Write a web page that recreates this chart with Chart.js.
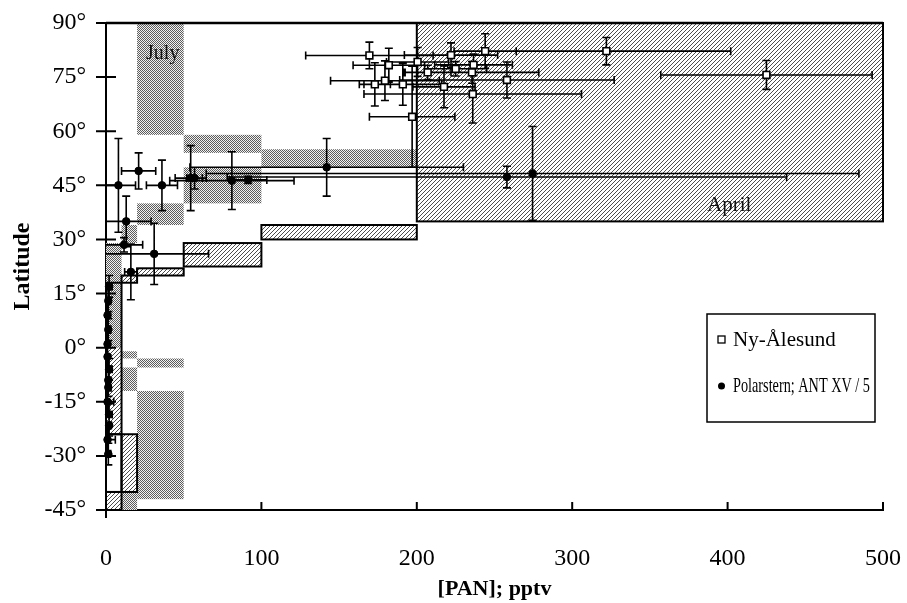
<!DOCTYPE html>
<html>
<head>
<meta charset="utf-8">
<script src="https://cdn.jsdelivr.net/npm/chart.js@4.4.0/dist/chart.umd.min.js"></script>
<style>
  html, body { margin: 0; padding: 0; background: #fff; }
</style>
</head>
<body>
<canvas id="myChart" width="907" height="603"></canvas>
<script>
// Ny-Ålesund (open squares): PAN, latitude and their errors
const nyX    = [169.5, 182, 179.5, 173, 191, 200.5, 197, 207, 217.5, 225, 222, 235.5, 236.5, 244, 236, 258, 322, 425];
const nyY    = [81, 78.3, 74, 73, 73, 79.2, 64, 76.3, 72.3, 77.3, 81.1, 76.3, 78.4, 82.2, 70.3, 74.2, 82.2, 75.6];
const nyXErr = [41, 23, 35, 10, 25, 20, 27.5, 15, 20, 20, 30, 43, 25, 20, 70, 69, 80, 68];
const nyYErr = [3.7, 4.7, 5.5, 6, 5.8, 4, 14, 2, 5.8, 2, 3.4, 3, 3, 4.8, 8, 5, 3.8, 4];

// Polarstern ANT XV/5 (filled circles)
const psX    = [8, 21, 36, 54.5, 57, 81, 91.5, 142, 258, 274.5, 13, 11.6, 31, 16, 2, 1.5, 1, 1.5, 1, 1, 2, 1.5, 1.5, 1, 2, 2, 1, 1.5];
const psY    = [45, 49, 45, 47, 47, 46.3, 46.5, 50, 47.3, 48.3, 35, 28.5, 26, 21, 17, 13, 9, 5, 1, -2.5, -6, -9, -11, -15, -18.5, -21.5, -25.5, -29.5];
const psXErr = [11, 11, 10, 10, 5, 40, 12, 88, 180, 210, 16, 12, 35, 4, 2, 1.5, 1, 1.5, 1, 1, 2, 1, 1.5, 4, 2, 1.5, 5, 1.5];
const psYErr = [13, 5, 7, 9, 3, 8, 1, 8, 3, 13, 7, 2, 8.5, 7.7, 3, 3, 3, 3, 3, 2.5, 3, 3, 2.5, 3, 3, 3, 3, 3];

// April ranges (hatched) [pan from, pan to, lat from, lat to]
const aprilBoxes = [
  [200, 500, 35, 90], [100, 200, 30, 34], [50, 100, 22.5, 29], [20, 50, 20, 22],
  [10, 20, 18, 20], [0, 10, -24, 18], [10, 20, -40, -24], [0, 10, -45, -40]
];
const aprilEmpty = [[0, 10, -40, -24]];

// July ranges (stippled)
const julyBoxes = [
  [20, 50, 59, 90], [50, 100, 54, 59], [50, 100, 40, 50], [100, 200, 50, 55],
  [20, 50, 34, 40], [10, 20, 29, 34], [0, 10, 0, 29], [10, 20, -3, -1],
  [20, 50, -5.5, -3], [10, 20, -12, -5.5], [20, 50, -42, -12], [10, 20, -45, -40]
];

const xTicks = [0, 100, 200, 300, 400, 500];
const yTicks = [-45, -30, -15, 0, 15, 30, 45, 60, 75, 90];

const serif = '"Liberation Serif", "Times New Roman", serif';

function makeHatch() {
  const t = document.createElement('canvas');
  t.width = 4; t.height = 4;
  const g = t.getContext('2d');
  g.fillStyle = '#fff'; g.fillRect(0, 0, 4, 4);
  g.strokeStyle = '#4d4d4d'; g.lineWidth = 1;
  g.beginPath(); g.moveTo(-1, 5); g.lineTo(5, -1); g.stroke();
  return g.createPattern(t, 'repeat');
}
function makeStipple() {
  const t = document.createElement('canvas');
  t.width = 2; t.height = 2;
  const g = t.getContext('2d');
  g.fillStyle = '#f2f2f2'; g.fillRect(0, 0, 2, 2);
  g.fillStyle = '#5c5c5c'; g.fillRect(0, 0, 1, 1); g.fillRect(1, 1, 1, 1);
  return g.createPattern(t, 'repeat');
}
const hatch = makeHatch();
const stipple = makeStipple();

function rectOf(x, y, b) {
  const l = x.getPixelForValue(b[0]), r = x.getPixelForValue(b[1]);
  const t = y.getPixelForValue(b[3]), bt = y.getPixelForValue(b[2]);
  return [l, t, r - l, bt - t];
}

function errorBars(ctx, x, y, xs, ys, xe, ye) {
  const cap = 4;
  ctx.beginPath();
  for (let i = 0; i < xs.length; i++) {
    const cx = x.getPixelForValue(xs[i]), cy = y.getPixelForValue(ys[i]);
    const x0 = x.getPixelForValue(xs[i] - xe[i]), x1 = x.getPixelForValue(xs[i] + xe[i]);
    const y0 = y.getPixelForValue(ys[i] - ye[i]), y1 = y.getPixelForValue(ys[i] + ye[i]);
    ctx.moveTo(x0, cy); ctx.lineTo(x1, cy);
    ctx.moveTo(x0, cy - cap); ctx.lineTo(x0, cy + cap);
    ctx.moveTo(x1, cy - cap); ctx.lineTo(x1, cy + cap);
    ctx.moveTo(cx, y0); ctx.lineTo(cx, y1);
    ctx.moveTo(cx - cap, y0); ctx.lineTo(cx + cap, y0);
    ctx.moveTo(cx - cap, y1); ctx.lineTo(cx + cap, y1);
  }
  ctx.stroke();
}

const panelPlugin = {
  id: 'panel',
  beforeDatasetsDraw(chart) {
    const { ctx, chartArea: a, scales: { x, y } } = chart;
    ctx.save();
    ctx.beginPath();
    ctx.rect(a.left, a.top - 2, a.right - a.left + 2, a.bottom - a.top + 2);
    ctx.clip();
    ctx.fillStyle = hatch;
    aprilBoxes.forEach(b => ctx.fillRect(...rectOf(x, y, b)));
    ctx.fillStyle = '#fff';
    aprilEmpty.forEach(b => ctx.fillRect(...rectOf(x, y, b)));
    ctx.fillStyle = stipple;
    julyBoxes.forEach(b => ctx.fillRect(...rectOf(x, y, b)));
    ctx.strokeStyle = '#000';
    ctx.lineWidth = 2;
    aprilBoxes.concat(aprilEmpty).forEach(b => ctx.strokeRect(...rectOf(x, y, b)));

    ctx.lineWidth = 1.6;
    errorBars(ctx, x, y, psX, psY, psXErr, psYErr);
    errorBars(ctx, x, y, nyX, nyY, nyXErr, nyYErr);
    ctx.restore();

    // range labels
    ctx.save();
    ctx.fillStyle = '#111';
    ctx.textAlign = 'center';
    ctx.textBaseline = 'middle';
    ctx.font = '20px ' + serif;
    ctx.fillText('July', x.getPixelForValue(36.5), y.getPixelForValue(81.5));
    ctx.font = '21px ' + serif;
    ctx.fillText('April', x.getPixelForValue(401), y.getPixelForValue(39.5));
    ctx.restore();
  },
  afterDraw(chart) {
    const { ctx, chartArea: a, scales: { x, y } } = chart;
    ctx.save();
    ctx.strokeStyle = '#000';
    // top frame line
    ctx.lineWidth = 2.5;
    ctx.beginPath();
    ctx.moveTo(a.left, y.getPixelForValue(90));
    ctx.lineTo(x.getPixelForValue(500), y.getPixelForValue(90));
    ctx.stroke();
    // y ticks crossing the axis
    ctx.lineWidth = 2;
    ctx.beginPath();
    yTicks.forEach(v => {
      const py = y.getPixelForValue(v);
      ctx.moveTo(a.left - 10, py); ctx.lineTo(a.left + 10, py);
    });
    ctx.moveTo(a.left, a.bottom); ctx.lineTo(a.left, a.bottom + 8);
    // x ticks inside
    xTicks.slice(1).forEach(v => {
      const px = x.getPixelForValue(v);
      ctx.moveTo(px, a.bottom); ctx.lineTo(px, a.bottom - 8);
    });
    ctx.stroke();

    // legend
    const lx = a.right - 176, ly = a.top + 291, lw = 168, lh = 108;
    ctx.fillStyle = '#fff';
    ctx.fillRect(lx, ly, lw, lh);
    ctx.lineWidth = 1.5;
    ctx.strokeRect(lx, ly, lw, lh);
    ctx.lineWidth = 1.3;
    ctx.strokeRect(lx + 11, ly + 22, 7, 7);
    ctx.fillStyle = '#000';
    ctx.beginPath();
    ctx.arc(lx + 14.5, ly + 72, 3.5, 0, Math.PI * 2);
    ctx.fill();
    ctx.font = '21px ' + serif;
    ctx.textAlign = 'left';
    ctx.textBaseline = 'middle';
    ctx.fillText(chart.data.datasets[0].label, lx + 26, ly + 26, 108);
    ctx.fillText(chart.data.datasets[1].label, lx + 26, ly + 72, 137);
    ctx.restore();
  }
};

const ctx = document.getElementById('myChart');
new Chart(ctx, {
  type: 'scatter',
  data: {
    datasets: [{
      label: 'Ny-Ålesund',
      data: nyX.map((v, i) => ({ x: v, y: nyY[i] })),
      pointStyle: 'rect',
      pointRadius: 4.8,
      backgroundColor: '#fff',
      borderColor: '#000',
      borderWidth: 1.6,
      clip: false
    }, {
      label: 'Polarstern; ANT XV / 5',
      data: psX.map((v, i) => ({ x: v, y: psY[i] })),
      pointStyle: 'circle',
      pointRadius: 3.8,
      backgroundColor: '#000',
      borderColor: '#000',
      borderWidth: 1,
      clip: false
    }]
  },
  options: {
    responsive: false,
    animation: false,
    layout: { padding: { top: 23, right: 24, left: 0, bottom: 0 } },
    plugins: { legend: { display: false }, tooltip: { enabled: false } },
    scales: {
      x: {
        type: 'linear', min: 0, max: 500,
        afterBuildTicks: s => { s.ticks = xTicks.map(v => ({ value: v })); },
        ticks: { font: { family: serif, size: 24 }, color: '#000', padding: 34, maxRotation: 0 },
        grid: { display: false, drawTicks: false },
        border: { display: true, color: '#000', width: 2 },
        title: { display: true, text: '[PAN]; pptv', color: '#000',
                 font: { family: serif, size: 22, weight: 'bold' }, padding: { top: 0, bottom: 0 } },
        afterFit: s => { s.height = 93; s.paddingLeft = 0; s.paddingRight = 0; }
      },
      y: {
        type: 'linear', min: -45, max: 90,
        afterBuildTicks: s => { s.ticks = yTicks.map(v => ({ value: v })); },
        ticks: { font: { family: serif, size: 24 }, color: '#000', padding: 20, callback: v => v + '°' },
        grid: { display: false, drawTicks: false },
        border: { display: true, color: '#000', width: 2 },
        title: { display: true, text: 'Latitude', color: '#000',
                 font: { family: serif, size: 24, weight: 'bold' }, padding: { top: 8, bottom: 0 } },
        afterFit: s => { s.width = 106; s.paddingTop = 0; s.paddingBottom = 0; }
      }
    }
  },
  plugins: [panelPlugin]
});
</script>
</body>
</html>
